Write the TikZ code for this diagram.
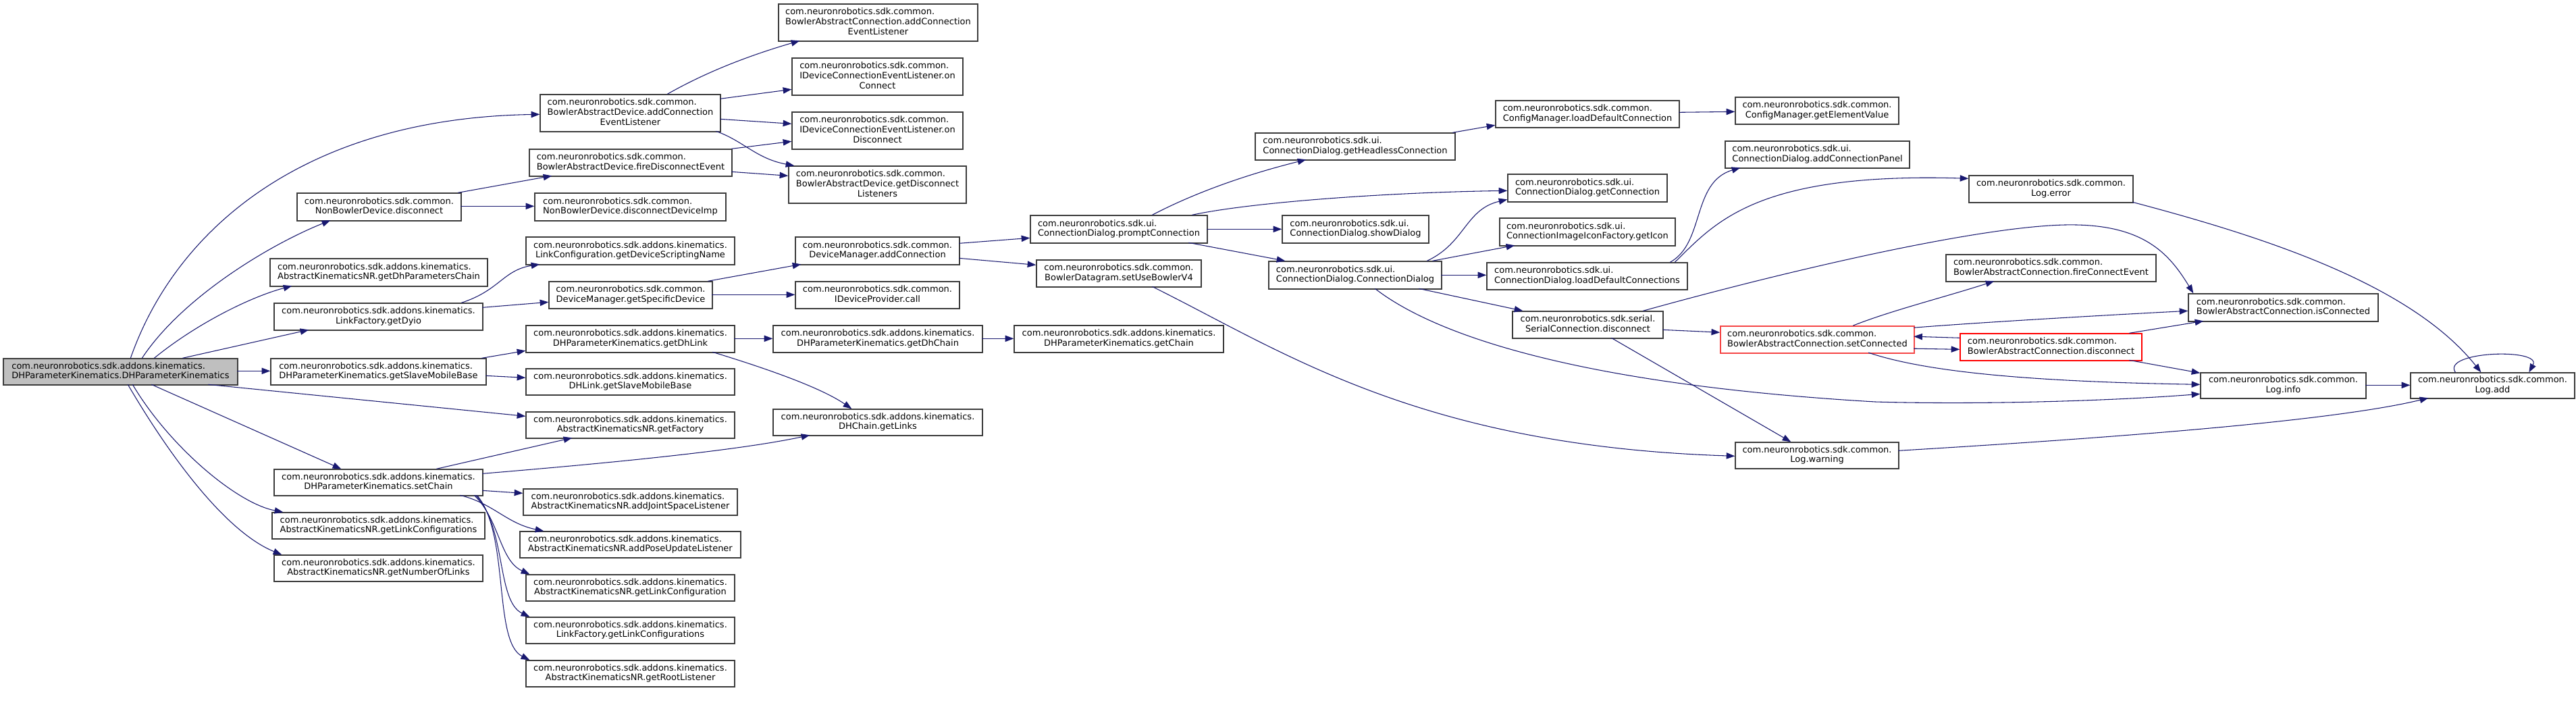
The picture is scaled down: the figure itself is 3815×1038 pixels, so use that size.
\documentclass[tikz,border=0pt]{standalone}
\usepackage{fontspec}
\setmainfont{DejaVu Sans}
\usetikzlibrary{arrows.meta,calc}
\definecolor{edgec}{RGB}{25,25,112}
\definecolor{bordc}{RGB}{60,60,60}
\definecolor{lightred}{RGB}{245,70,70}
\tikzset{
  box/.style={draw=bordc, line width=1pt, fill=white, inner sep=0pt, font=\fontsize{9.75pt}{11pt}\selectfont},
  mainbox/.style={fill=gray!50},
  redbox/.style={draw=red},
  redboxlight/.style={draw=lightred, line width=1.2pt},
  call/.style={draw=edgec, line width=0.8pt, -{Triangle[length=9.5pt,width=7pt]}, fill=none},
}
\newcommand\lbltwo[2]{\begin{tabular}{@{}l@{}}#1\\\multicolumn{1}{@{}c@{}}{#2}\end{tabular}}
\newcommand\lblthree[3]{\begin{tabular}{@{}l@{}}#1\\#2\\\multicolumn{1}{@{}c@{}}{#3}\end{tabular}}
\newcommand\bx[7][]{\node[box,#1,minimum width={(#5-#3)*0.75pt},minimum height={(#6-#4)*0.75pt}] (#2) at ({(#3+#5)/2},{(#4+#6)/2}) {#7};}
\def\kin{com.neuronrobotics.sdk.addons.kinematics.}
\def\cmn{com.neuronrobotics.sdk.common.}
\def\uii{com.neuronrobotics.sdk.ui.}
\begin{document}
\begin{tikzpicture}[x=0.75pt,y=-0.75pt]
\useasboundingbox (0,0) rectangle (3815,1038);
\fill[white] (0,0) rectangle (3815,1038);
% nodes
\bx[mainbox]{main}{5}{531}{352}{570}{\lbltwo{\kin}{DHParameterKinematics.DHParameterKinematics}}
\bx{baDaCEL}{800}{140}{1067}{195}{\lblthree{\cmn}{BowlerAbstractDevice.addConnection}{EventListener}}
\bx{nbdDisc}{440}{286}{683}{327}{\lbltwo{\cmn}{NonBowlerDevice.disconnect}}
\bx{getDhPC}{400}{383}{722}{424}{\lbltwo{\kin}{AbstractKinematicsNR.getDhParametersChain}}
\bx{getDyio}{406}{449}{715}{489}{\lbltwo{\kin}{LinkFactory.getDyio}}
\bx{getSMB}{401}{531}{720}{570}{\lbltwo{\kin}{DHParameterKinematics.getSlaveMobileBase}}
\bx{setChain}{406}{695}{715}{734}{\lbltwo{\kin}{DHParameterKinematics.setChain}}
\bx{getLCs}{403}{759}{718}{798}{\lbltwo{\kin}{AbstractKinematicsNR.getLinkConfigurations}}
\bx{getNOL}{406}{822}{715}{861}{\lbltwo{\kin}{AbstractKinematicsNR.getNumberOfLinks}}
\bx{bacACEL}{1153}{6}{1448}{61}{\lblthree{\cmn}{BowlerAbstractConnection.addConnection}{EventListener}}
\bx{onConn}{1173}{86}{1426}{141}{\lblthree{\cmn}{IDeviceConnectionEventListener.on}{Connect}}
\bx{onDisc}{1173}{166}{1426}{221}{\lblthree{\cmn}{IDeviceConnectionEventListener.on}{Disconnect}}
\bx{getDiscL}{1168}{246}{1431}{301}{\lblthree{\cmn}{BowlerAbstractDevice.getDisconnect}{Listeners}}
\bx{fireDisc}{784}{221}{1084}{261}{\lbltwo{\cmn}{BowlerAbstractDevice.fireDisconnectEvent}}
\bx{discImp}{792}{286}{1075}{327}{\lbltwo{\cmn}{NonBowlerDevice.disconnectDeviceImp}}
\bx{getDSN}{779}{351}{1088}{392}{\lbltwo{\kin}{LinkConfiguration.getDeviceScriptingName}}
\bx{getSpecDev}{813}{417}{1055}{457}{\lbltwo{\cmn}{DeviceManager.getSpecificDevice}}
\bx{addConn}{1178}{351}{1421}{392}{\lbltwo{\cmn}{DeviceManager.addConnection}}
\bx{devCall}{1178}{417}{1421}{457}{\lbltwo{\cmn}{IDeviceProvider.call}}
\bx{getDhLink}{779}{482}{1088}{522}{\lbltwo{\kin}{DHParameterKinematics.getDhLink}}
\bx{getDhChain}{1145}{482}{1455}{522}{\lbltwo{\kin}{DHParameterKinematics.getDhChain}}
\bx{getChain}{1502}{482}{1812}{522}{\lbltwo{\kin}{DHParameterKinematics.getChain}}
\bx{dhlSMB}{779}{546}{1088}{585}{\lbltwo{\kin}{DHLink.getSlaveMobileBase}}
\bx{getFactory}{779}{610}{1088}{649}{\lbltwo{\kin}{AbstractKinematicsNR.getFactory}}
\bx{getLinks}{1145}{606}{1455}{645}{\lbltwo{\kin}{DHChain.getLinks}}
\bx{addJSL}{775}{724}{1092}{763}{\lbltwo{\kin}{AbstractKinematicsNR.addJointSpaceListener}}
\bx{addPUL}{770}{787}{1097}{826}{\lbltwo{\kin}{AbstractKinematicsNR.addPoseUpdateListener}}
\bx{getLC}{779}{851}{1088}{890}{\lbltwo{\kin}{AbstractKinematicsNR.getLinkConfiguration}}
\bx{lfGetLC}{779}{914}{1088}{953}{\lbltwo{\kin}{LinkFactory.getLinkConfigurations}}
\bx{getRootL}{779}{978}{1088}{1017}{\lbltwo{\kin}{AbstractKinematicsNR.getRootListener}}
\bx{getHeadless}{1859}{197}{2155}{237}{\lbltwo{\uii}{ConnectionDialog.getHeadlessConnection}}
\bx{loadDefConn}{2215}{149}{2487}{189}{\lbltwo{\cmn}{ConfigManager.loadDefaultConnection}}
\bx{promptConn}{1526}{319}{1788}{360}{\lbltwo{\uii}{ConnectionDialog.promptConnection}}
\bx{showDialog}{1899}{319}{2116}{360}{\lbltwo{\uii}{ConnectionDialog.showDialog}}
\bx{setUseV4}{1535}{385}{1779}{425}{\lbltwo{\cmn}{BowlerDatagram.setUseBowlerV4}}
\bx{connDialog}{1879}{387}{2135}{428}{\lbltwo{\uii}{ConnectionDialog.ConnectionDialog}}
\bx{getConnection}{2233}{258}{2469}{299}{\lbltwo{\uii}{ConnectionDialog.getConnection}}
\bx{getIcon}{2221}{323}{2481}{364}{\lbltwo{\uii}{ConnectionImageIconFactory.getIcon}}
\bx{loadDefConns}{2202}{389}{2499}{429}{\lbltwo{\uii}{ConnectionDialog.loadDefaultConnections}}
\bx{serialDisc}{2240}{461}{2463}{501}{\lbltwo{com.neuronrobotics.sdk.serial.}{SerialConnection.disconnect}}
\bx{getElemVal}{2570}{144}{2812}{184}{\lbltwo{\cmn}{ConfigManager.getElementValue}}
\bx{addConnPanel}{2555}{209}{2828}{249}{\lbltwo{\uii}{ConnectionDialog.addConnectionPanel}}
\bx{logError}{2916}{260}{3159}{300}{\lbltwo{\cmn}{Log.error}}
\bx{fireConnEv}{2882}{377}{3193}{417}{\lbltwo{\cmn}{BowlerAbstractConnection.fireConnectEvent}}
\bx[redboxlight]{setConnected}{2548}{483}{2835}{523}{\lbltwo{\cmn}{BowlerAbstractConnection.setConnected}}
\bx[redbox]{bacDisc}{2903}{494}{3172}{534}{\lbltwo{\cmn}{BowlerAbstractConnection.disconnect}}
\bx{isConnected}{3241}{435}{3522}{476}{\lbltwo{\cmn}{BowlerAbstractConnection.isConnected}}
\bx{logWarning}{2570}{655}{2812}{694}{\lbltwo{\cmn}{Log.warning}}
\bx{logInfo}{3259}{552}{3504}{590}{\lbltwo{\cmn}{Log.info}}
\bx{logAdd}{3570}{552}{3813}{590}{\lbltwo{\cmn}{Log.add}}
% edges
\draw[call] ($(main.north west)+(189,0)$) .. controls (260,340) and (450,175) .. ($(baDaCEL.north west)+(0,30)$);
\draw[call] ($(main.north west)+(206,0)$) .. controls (270,440) and (400,362) .. ($(nbdDisc.north west)+(50,41)$);
\draw[call] ($(main.north west)+(224,0)$) .. controls (290,480) and (370,440) .. ($(getDhPC.north west)+(33,41)$);
\draw[call] ($(main.north west)+(266,0)$) -- ($(getDyio.north west)+(52,40)$);
\draw[call] ($(main.north west)+(347,19)$) -- ($(getSMB.north west)+(0,19)$);
\draw[call] ($(main.north west)+(304,39)$) -- ($(getFactory.north west)+(0,7)$);
\draw[call] ($(main.north west)+(220,39)$) -- ($(setChain.north west)+(100,0)$);
\draw[call] ($(main.north west)+(192,39)$) .. controls (250,660) and (350,745) .. ($(getLCs.north west)+(17,0)$);
\draw[call] ($(main.north west)+(185,39)$) .. controls (260,690) and (340,790) .. ($(getNOL.north west)+(12,0)$);
\draw[call] ($(nbdDisc.north west)+(243,20)$) -- ($(discImp.north west)+(0,20)$);
\draw[call] ($(nbdDisc.north west)+(239,0)$) -- ($(fireDisc.north west)+(34,40)$);
\draw[call] ($(getDyio.north west)+(278,0)$) .. controls (740,430) and (745,400) .. ($(getDSN.north west)+(21,41)$);
\draw[call] ($(getDyio.north west)+(309,7)$) -- ($(getSpecDev.north west)+(0,31)$);
\draw[call] ($(getSMB.north west)+(313,0)$) -- ($(getDhLink.north west)+(0,38)$);
\draw[call] ($(getSMB.north west)+(319,26)$) -- ($(dhlSMB.north west)+(0,14)$);
\draw[call] ($(setChain.north west)+(241,0)$) -- ($(getFactory.north west)+(69,39)$);
\draw[call] ($(setChain.north west)+(309,7)$) .. controls (850,690) and (1080,670) .. ($(getLinks.north west)+(55,39)$);
\draw[call] ($(setChain.north west)+(309,32)$) -- ($(addJSL.north west)+(0,7)$);
\draw[call] ($(setChain.north west)+(276,39)$) .. controls (730,745) and (750,775) .. ($(addPUL.north west)+(36,0)$);
\draw[call] ($(setChain.north west)+(297,39)$) .. controls (740,770) and (740,830) .. ($(getLC.north west)+(6,0)$);
\draw[call] ($(setChain.north west)+(299,39)$) .. controls (750,780) and (735,890) .. ($(lfGetLC.north west)+(6,0)$);
\draw[call] ($(setChain.north west)+(301,39)$) .. controls (755,790) and (730,950) .. ($(getRootL.north west)+(6,0)$);
\draw[call] ($(baDaCEL.north west)+(189,0)$) .. controls (1040,110) and (1100,85) .. ($(bacACEL.north west)+(32,55)$);
\draw[call] ($(baDaCEL.north west)+(267,7)$) -- ($(onConn.north west)+(0,47)$);
\draw[call] ($(baDaCEL.north west)+(267,37)$) -- ($(onDisc.north west)+(0,18)$);
\draw[call] ($(baDaCEL.north west)+(261,55)$) .. controls (1100,208) and (1120,235) .. ($(getDiscL.north west)+(9,0)$);
\draw[call] ($(fireDisc.north west)+(300,0)$) -- ($(onDisc.north west)+(0,44)$);
\draw[call] ($(fireDisc.north west)+(300,34)$) -- ($(getDiscL.north west)+(0,15)$);
\draw[call] ($(getSpecDev.north west)+(236,0)$) -- ($(addConn.north west)+(9,41)$);
\draw[call] ($(getSpecDev.north west)+(242,20)$) -- ($(devCall.north west)+(0,20)$);
\draw[call] ($(addConn.north west)+(243,10)$) -- ($(promptConn.north west)+(0,34)$);
\draw[call] ($(addConn.north west)+(243,32)$) -- ($(setUseV4.north west)+(0,8)$);
\draw[call] ($(getDhLink.north west)+(309,20)$) -- ($(getDhChain.north west)+(0,20)$);
\draw[call] ($(getDhLink.north west)+(277,40)$) .. controls (1110,538) and (1210,570) .. ($(getLinks.north west)+(117,0)$);
\draw[call] ($(getDhChain.north west)+(310,20)$) -- ($(getChain.north west)+(0,20)$);
\draw[call] ($(promptConn.north west)+(181,0)$) .. controls (1780,280) and (1860,255) .. ($(getHeadless.north west)+(76,40)$);
\draw[call] ($(promptConn.north west)+(240,0)$) .. controls (1850,300) and (2050,285) .. ($(getConnection.north west)+(0,25)$);
\draw[call] ($(promptConn.north west)+(262,21)$) -- ($(showDialog.north west)+(0,21)$);
\draw[call] ($(promptConn.north west)+(235,41)$) -- ($(connDialog.north west)+(25,0)$);
\draw[call] ($(getHeadless.north west)+(293,0)$) -- ($(loadDefConn.north west)+(0,37)$);
\draw[call] ($(loadDefConn.north west)+(272,18)$) -- ($(getElemVal.north west)+(0,22)$);
\draw[call] ($(connDialog.north west)+(235,0)$) .. controls (2170,360) and (2170,310) .. ($(getConnection.north west)+(0,38)$);
\draw[call] ($(connDialog.north west)+(243,0)$) -- ($(getIcon.north west)+(23,41)$);
\draw[call] ($(connDialog.north west)+(256,21)$) -- ($(loadDefConns.north west)+(0,19)$);
\draw[call] ($(connDialog.north west)+(223,41)$) -- ($(serialDisc.north west)+(16,0)$);
\draw[call] ($(connDialog.north west)+(158,41)$) .. controls (2130,500) and (2350,570) .. (2777,595) .. controls (2950,600) and (3150,592) .. ($(logInfo.north west)+(0,32)$);
\draw[call] ($(loadDefConns.north west)+(272,0)$) .. controls (2525,360) and (2505,270) .. ($(addConnPanel.north west)+(23,40)$);
\draw[call] ($(loadDefConns.north west)+(279,0)$) .. controls (2540,330) and (2600,255) .. ($(logError.north west)+(0,5)$);
\draw[call] ($(serialDisc.north west)+(194,0)$) .. controls (2650,400) and (2950,330) .. (3075,333) .. controls (3180,335) and (3215,380) .. ($(isConnected.north west)+(8,0)$);
\draw[call] ($(serialDisc.north west)+(223,28)$) -- ($(setConnected.north west)+(0,10)$);
\draw[call] ($(serialDisc.north west)+(147,40)$) -- ($(logWarning.north west)+(83,0)$);
\draw[call] ($(setUseV4.north west)+(172,40)$) .. controls (1900,520) and (2100,660) .. ($(logWarning.north west)+(0,21)$);
\draw[call] ($(setConnected.north west)+(197,0)$) .. controls (2800,460) and (2880,440) .. ($(fireConnEv.north west)+(72,40)$);
\draw[call] ($(setConnected.north west)+(287,3)$) .. controls (2950,476) and (3150,465) .. ($(isConnected.north west)+(0,26)$);
\draw[call] ($(setConnected.north west)+(287,34)$) -- ($(bacDisc.north west)+(0,24)$);
\draw[call] ($(bacDisc.north west)+(0,7)$) -- ($(setConnected.north west)+(287,16)$);
\draw[call] ($(setConnected.north west)+(220,40)$) .. controls (2850,550) and (3000,565) .. ($(logInfo.north west)+(0,18)$);
\draw[call] ($(bacDisc.north west)+(251,0)$) -- ($(isConnected.north west)+(23,41)$);
\draw[call] ($(bacDisc.north west)+(251,40)$) -- ($(logInfo.north west)+(0,1)$);
\draw[call] ($(logError.north west)+(243,40)$) .. controls (3350,350) and (3570,420) .. ($(logAdd.north west)+(105,0)$);
\draw[call] ($(logInfo.north west)+(245,19)$) -- ($(logAdd.north west)+(0,19)$);
\draw[call] ($(logWarning.north west)+(242,13)$) .. controls (3100,650) and (3450,625) .. ($(logAdd.north west)+(27,38)$);
\draw[call] ($(logAdd.north west)+(67,0)$) .. controls (3615,520) and (3765,515) .. ($(logAdd.north west)+(176,0)$);
\end{tikzpicture}
\end{document}
